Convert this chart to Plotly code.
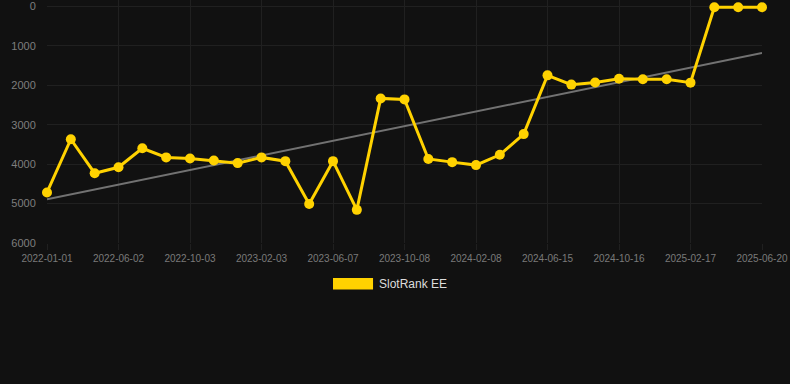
import numpy as np
import plotly.graph_objects as go

tick_labels = ["2022-01-01", "2022-06-02", "2022-10-03", "2023-02-03", "2023-06-07",
               "2023-10-08", "2024-02-08", "2024-06-15", "2024-10-16", "2025-02-17", "2025-06-20"]
series_name = "SlotRank EE"
rank_values = [4720, 3370, 4230, 4080, 3600, 3830, 3860, 3910, 3975, 3830,
               3925, 5010, 3925, 5160, 2335, 2360, 3870, 3950, 4025, 3765,
               3240, 1750, 1985, 1930, 1835, 1850, 1850, 1935, 25, 25, 25]
y_ticks = [0, 1000, 2000, 3000, 4000, 5000, 6000]

x_idx = np.arange(len(rank_values))
slope, intercept = np.polyfit(x_idx, rank_values, 1)
trend = slope * x_idx + intercept

BG = "#111111"
GOLD = "#FFD200"
GRID = "#202020"

fig = go.Figure()
fig.add_trace(go.Scatter(x=x_idx, y=trend, mode="lines",
                         line=dict(color="#727272", width=2), showlegend=False,
                         hoverinfo="skip", cliponaxis=False))
fig.add_trace(go.Scatter(x=x_idx, y=rank_values, mode="lines+markers", name=series_name,
                         line=dict(color=GOLD, width=3),
                         marker=dict(color=GOLD, size=10), showlegend=False,
                         cliponaxis=False))

tickvals = list(range(0, len(rank_values), 3))

fig.update_layout(
    width=790, height=384,
    paper_bgcolor=BG, plot_bgcolor=BG,
    margin=dict(l=47, r=28, t=0, b=141),
    font=dict(family="Liberation Sans, Arial, sans-serif", color="#7a7a7a"),
    xaxis=dict(range=[0, len(rank_values) - 1], tickmode="array", tickvals=tickvals,
               ticktext=tick_labels, showgrid=True, gridcolor=GRID, zeroline=False,
               ticks="outside", ticklen=6, tickcolor=GRID, showline=False,
               tickfont=dict(size=10, color="#7a7a7a")),
    yaxis=dict(range=[6000, -160], tickmode="array", tickvals=y_ticks,
               showgrid=True, gridcolor=GRID, zeroline=False,
               ticks="outside", ticklen=8, tickcolor=BG,
               tickfont=dict(size=11, color="#7e7e7e")),
    showlegend=False,
)

# custom legend (swatch + label)
fig.add_shape(type="rect", xref="paper", yref="paper",
              x0=0.4, x1=0.456, y0=-0.144, y1=-0.191,
              fillcolor=GOLD, line=dict(width=0))
fig.add_annotation(xref="paper", yref="paper", x=0.461, y=-0.167,
                   text=series_name, showarrow=False, xanchor="left", yanchor="middle",
                   font=dict(size=12, color="#dddddd"))

fig.write_html("out.html", config={"displayModeBar": False},
               post_script="document.body.style.margin='0';")
